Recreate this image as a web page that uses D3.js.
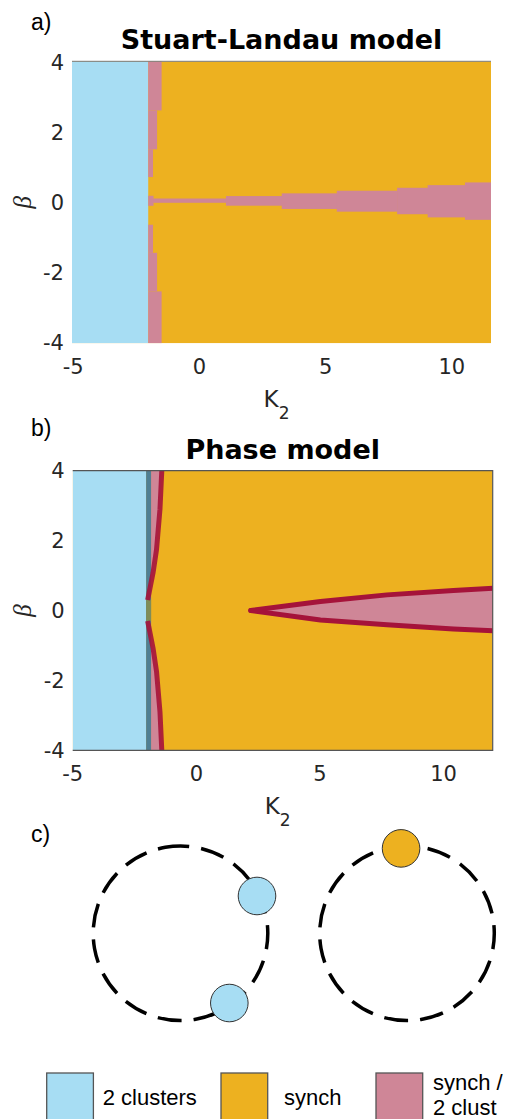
<!DOCTYPE html>
<html><head><meta charset="utf-8">
<script src="https://cdn.jsdelivr.net/npm/d3@7"></script>
<style>html,body{margin:0;padding:0;background:#fff;overflow:hidden}</style>
</head><body>
<svg id="chart" width="507" height="1119"></svg>
<script>
// ---------- data ----------
const legendLabels = ["2 clusters", "synch", "synch /|2 clust"];
const stateColors = ["#a7ddf3", "#edb120", "#cf8697"];
const xTicks = [-5, 0, 5, 10];
const yTicks = [-4, -2, 0, 2, 4];

// Panel a: Stuart-Landau model
const slKRange = [-5.05, 11.55];
const slBetaRange = [-4.02, 4.02];
const slBlueEdge = -2.03;
const slStripBeta = [[4.02, 2.62], [2.62, 1.51], [1.51, 0.72], [-0.64, -1.44], [-1.44, -2.54], [-2.54, -4.02]];
const slStripK = [-1.50, -1.68, -1.84, -1.84, -1.68, -1.50];
const slWedgeK = [[-2.03, -1.84], [-1.84, 1.05], [1.05, 3.26], [3.26, 5.44], [5.44, 7.83], [7.83, 9.04], [9.04, 10.52], [10.52, 11.55]];
const slWedgeHi = [0.186, 0.108, 0.178, 0.255, 0.33, 0.414, 0.49, 0.567];
const slWedgeLo = [-0.10, -0.014, -0.097, -0.19, -0.267, -0.34, -0.43, -0.50];

// Panel b: Phase model
const pmKRange = [-5, 12];
const pmBetaRange = [-4, 4];
const pmBlueEdge = -2.03;
const pmLineEdge = -1.83;
const pmMidBand = [-0.3, 0.3];
const pmCurveBeta = [4.1, 2.9, 1.74, 1.08, 0.51, 0.3];
const pmCurveK = [-1.39, -1.47, -1.61, -1.75, -1.91, -1.97];
const pmWedgeK = [2.2, 5.02, 7.71, 10.4, 12.2];
const pmWedgeHi = [0, 0.255, 0.447, 0.57, 0.645];
const pmWedgeLo = [0, -0.27, -0.41, -0.53, -0.585];

// Panel c: oscillator phases (degrees, counter-clockwise from +x)
const twoClusterPhases = [26, -55];
const synchPhases = [94];

// ---------- drawing ----------
const svg = d3.select("#chart");
const TICK_FONT = "DejaVu Sans";
const tickColor = "#262626";
const pink = stateColors[2], gold = stateColors[1], blue = stateColors[0];
const red = "#a5133a", teal = "#4f7f93", olive = "#7f8c58";

function panelLabel(txt, x, y) {
  svg.append("text").attr("x", x).attr("y", y).text(txt)
    .attr("font-family", "Liberation Sans, Arial, sans-serif").attr("font-size", 23).attr("fill", "#000");
}

function axes(g, x, y, box, title) {
  g.selectAll(".yt").data(yTicks).join("text")
    .attr("x", box.l - 8).attr("y", d => y(d)).attr("dy", "0.36em")
    .attr("text-anchor", "end").attr("font-family", TICK_FONT).attr("font-size", 21)
    .attr("fill", tickColor).text(d => d);
  g.selectAll(".xt").data(xTicks).join("text")
    .attr("x", d => x(d)).attr("y", box.b + 31)
    .attr("text-anchor", "middle").attr("font-family", TICK_FONT).attr("font-size", 21)
    .attr("fill", tickColor).text(d => d);
  const cx = (box.l + box.r) / 2;
  const k = g.append("text").attr("x", cx - 5).attr("y", box.b + 64)
    .attr("text-anchor", "middle").attr("font-family", TICK_FONT).attr("font-size", 23).attr("fill", tickColor);
  k.append("tspan").text("K");
  k.append("tspan").attr("dy", 12).attr("font-size", 17).text("2");
  const cy = (box.t + box.b) / 2;
  g.append("text").attr("transform", `translate(31,${cy}) rotate(-90)`)
    .attr("text-anchor", "middle").attr("font-family", "Liberation Serif, serif").attr("font-style", "italic")
    .attr("font-size", 25).attr("fill", tickColor).text("β");
  g.append("text").attr("x", cx).attr("y", box.t - 12).attr("text-anchor", "middle")
    .attr("font-family", "DejaVu Sans").attr("font-weight", "bold").attr("font-size", 27)
    .attr("fill", "#000").text(title);
}

// ----- Panel a -----
{
  const box = {l: 72, r: 491, t: 61.3, b: 343.3};
  const x = d3.scaleLinear().domain(slKRange).range([box.l, box.r]);
  const y = d3.scaleLinear().domain(slBetaRange).range([box.b, box.t]);
  const g = svg.append("g");
  g.append("defs").append("clipPath").attr("id", "clipA").append("rect")
    .attr("x", box.l).attr("y", box.t).attr("width", box.r - box.l).attr("height", box.b - box.t);
  const p = g.append("g").attr("clip-path", "url(#clipA)");
  p.append("rect").attr("x", box.l).attr("y", box.t).attr("width", box.r - box.l).attr("height", box.b - box.t).attr("fill", gold);
  p.append("rect").attr("x", x(slKRange[0])).attr("y", y(slBetaRange[1]))
    .attr("width", x(slBlueEdge) - x(slKRange[0])).attr("height", y(slBetaRange[0]) - y(slBetaRange[1])).attr("fill", blue);
  p.selectAll(".strip").data(slStripBeta).join("rect")
    .attr("x", x(slBlueEdge)).attr("y", d => y(d[0]))
    .attr("width", (d, i) => x(slStripK[i]) - x(slBlueEdge))
    .attr("height", d => y(d[1]) - y(d[0])).attr("fill", pink);
  p.selectAll(".wedge").data(slWedgeK).join("rect")
    .attr("x", d => x(d[0])).attr("width", d => x(d[1]) - x(d[0]) + 0.5)
    .attr("y", (d, i) => y(slWedgeHi[i])).attr("height", (d, i) => y(slWedgeLo[i]) - y(slWedgeHi[i]))
    .attr("fill", pink);
  g.append("line").attr("x1", box.l).attr("x2", box.r).attr("y1", box.t).attr("y2", box.t)
    .attr("stroke", "#7a7a7a").attr("stroke-width", 1);
  axes(g, x, y, box, "Stuart-Landau model");
}

// ----- Panel b -----
{
  const box = {l: 72.7, r: 492.7, t: 470.7, b: 750.3};
  const x = d3.scaleLinear().domain(pmKRange).range([box.l, box.r + 0.3]);
  const y = d3.scaleLinear().domain(pmBetaRange).range([box.b, box.t]);
  const g = svg.append("g");
  g.append("defs").append("clipPath").attr("id", "clipB").append("rect")
    .attr("x", box.l).attr("y", box.t).attr("width", box.r - box.l).attr("height", box.b - box.t);
  const p = g.append("g").attr("clip-path", "url(#clipB)");
  p.append("rect").attr("x", box.l).attr("y", box.t).attr("width", box.r - box.l).attr("height", box.b - box.t).attr("fill", gold);
  p.append("rect").attr("x", x(pmKRange[0])).attr("y", y(4)).attr("width", x(pmBlueEdge) - x(pmKRange[0]))
    .attr("height", y(-4) - y(4)).attr("fill", blue);
  const curvePts = pmCurveBeta.map((b, i) => [pmCurveK[i], b]);
  const line = d3.line().x(d => x(d[0])).y(d => y(d[1]));
  [1, -1].forEach(s => {
    const pts = curvePts.map(d => [d[0], s * d[1]]);
    const poly = pts.concat([[pmLineEdge, s * pmMidBand[1]], [pmLineEdge, s * 4.2]]);
    p.append("path").attr("d", line(poly)).attr("fill", pink);
  });
  p.append("rect").attr("x", x(pmBlueEdge)).attr("y", y(4)).attr("width", x(pmLineEdge) - x(pmBlueEdge))
    .attr("height", y(-4) - y(4)).attr("fill", teal);
  p.append("rect").attr("x", x(pmBlueEdge)).attr("y", y(pmMidBand[1])).attr("width", x(pmLineEdge) - x(pmBlueEdge))
    .attr("height", y(pmMidBand[0]) - y(pmMidBand[1])).attr("fill", olive);
  [1, -1].forEach(s => {
    const pts = curvePts.map(d => [d[0], s * d[1]]);
    p.append("path").attr("d", line(pts)).attr("fill", "none")
      .attr("stroke", red).attr("stroke-width", 5).attr("stroke-opacity", 0.9).attr("stroke-linejoin", "round");
  });
  const hi = pmWedgeK.map((k, i) => [k, pmWedgeHi[i]]);
  const lo = pmWedgeK.map((k, i) => [k, pmWedgeLo[i]]);
  p.append("path").attr("d", line(hi.concat(lo.slice().reverse()))).attr("fill", pink);
  [hi, lo].forEach(pts => p.append("path").attr("d", line(pts)).attr("fill", "none")
    .attr("stroke", red).attr("stroke-width", 5).attr("stroke-linecap", "round").attr("stroke-linejoin", "round"));
  g.append("path").attr("d", `M${box.l},${box.t}H${box.r}V${box.b}H${box.l}`)
    .attr("fill", "none").attr("stroke", "#555").attr("stroke-width", 1.2);
  axes(g, x, y, box, "Phase model");
}

panelLabel("a)", 31, 30);
panelLabel("b)", 31, 436);
panelLabel("c)", 31, 842);

// ----- Panel c -----
{
  const rings = [{cx: 180.5, cy: 933.3, phases: twoClusterPhases, color: blue},
                 {cx: 407, cy: 933.3, phases: synchPhases, color: gold}];
  const R = 87.3;
  const ang = d3.scaleLinear().domain([0, 360]).range([0, 2 * Math.PI]);
  rings.forEach(rg => {
    svg.append("circle").attr("cx", rg.cx).attr("cy", rg.cy).attr("r", R)
      .attr("fill", "none").attr("stroke", "#000").attr("stroke-width", 3.5)
      .attr("stroke-dasharray", "24 12").attr("transform", `rotate(-100 ${rg.cx} ${rg.cy})`);
    svg.selectAll(null).data(rg.phases).join("circle")
      .attr("cx", d => rg.cx + 0.975 * R * Math.cos(ang(d)))
      .attr("cy", d => rg.cy - 0.975 * R * Math.sin(ang(d)))
      .attr("r", 18.8).attr("fill", rg.color).attr("stroke", "#333").attr("stroke-width", 1);
  });
}

// ----- Legend -----
{
  const lx = [46.7, 221, 376];
  legendLabels.forEach((lab, i) => {
    svg.append("rect").attr("x", lx[i]).attr("y", 1073).attr("width", 46.7).attr("height", 60)
      .attr("fill", stateColors[i]).attr("stroke", "#555").attr("stroke-width", 1.3);
    const parts = lab.split("|");
    const t = svg.append("text").attr("font-family", "Liberation Sans, Arial, sans-serif")
      .attr("font-size", 22).attr("fill", "#000");
    if (parts.length === 1) {
      t.attr("x", lx[i] + (i === 0 ? 56 : 63)).attr("y", 1104.5).text(lab);
    } else {
      parts.forEach((s, j) => t.append("tspan").attr("x", lx[i] + 57).attr("y", 1090 + j * 25).text(s));
    }
  });
}
</script>
</body></html>
